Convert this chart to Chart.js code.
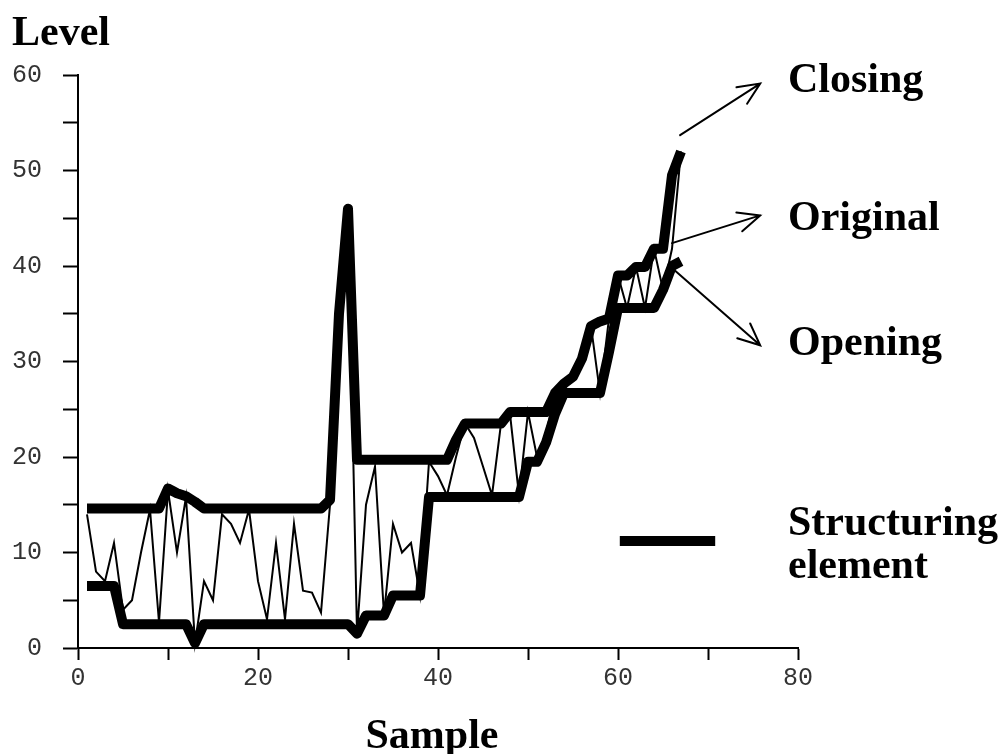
<!DOCTYPE html>
<html>
<head>
<meta charset="utf-8">
<script src="https://cdn.jsdelivr.net/npm/chart.js@4.4.0/dist/chart.umd.min.js"></script>
<style>
    body { margin: 0; background: #fff; }
    #caixa { position: relative; width: 1006px; height: 754px; }
    .rotulo {
        position: absolute;
        font-family: "Liberation Serif", "Times New Roman", serif;
        font-weight: bold;
        font-size: 42px;
        line-height: 42px;
        color: #000;
        white-space: nowrap;
    }
</style>
</head>
<body>
<div id="caixa">
    <canvas id="GraficoMorfologia" width="1006" height="754"></canvas>
    <div class="rotulo" style="left:12px;top:10px;">Level</div>
    <div class="rotulo" style="left:788px;top:57px;">Closing</div>
    <div class="rotulo" style="left:788px;top:195px;">Original</div>
    <div class="rotulo" style="left:788px;top:320px;">Opening</div>
    <div class="rotulo" style="left:788px;top:500px;">Structuring</div>
    <div class="rotulo" style="left:788px;top:543px;">element</div>
    <div class="rotulo" style="left:332px;top:713px;width:200px;text-align:center;">Sample</div>
</div>
<script>
// valores (amostra 1..67)
var amostras = [];
for (var i = 1; i <= 67; i++) amostras.push(i);

var original = [14, 8, 7, 11, 4, 5, 10, 14.5, 2.7, 16.5,
    10, 15.8, 0.5, 7, 5, 14, 13, 11, 14.5, 7,
    3, 11, 3, 13, 6, 5.8, 3.7, 15, 35, 46,
    1.5, 15, 19, 3.5, 13, 10, 11, 5.5, 19.5, 18,
    16, 20, 23.5, 22, 19, 16, 23.5, 24.5, 16, 24.7,
    20, 22.5, 26.5, 27.5, 28.4, 30.3, 33.7, 26.7, 34.5, 39,
    35.6, 39.9, 35.6, 41.8, 37.5, 41.8, 52];

var abertura = [6.5, 6.5, 6.5, 6.5, 2.5, 2.5, 2.5, 2.5, 2.5, 2.5,
    2.5, 2.5, 0.5, 2.5, 2.5, 2.5, 2.5, 2.5, 2.5, 2.5,
    2.5, 2.5, 2.5, 2.5, 2.5, 2.5, 2.5, 2.5, 2.5, 2.5,
    1.5, 3.4, 3.4, 3.4, 5.5, 5.5, 5.5, 5.5, 15.8, 15.8,
    15.8, 15.8, 15.8, 15.8, 15.8, 15.8, 15.8, 15.8, 15.8, 19.5,
    19.5, 21.5, 24.5, 26.7, 26.7, 26.7, 26.7, 26.7, 31, 35.6,
    35.6, 35.6, 35.6, 35.6, 37.5, 40, 40.5];

var fechamento = [14.6, 14.6, 14.6, 14.6, 14.6, 14.6, 14.6, 14.6, 14.6, 16.7,
    16.2, 15.9, 15.3, 14.6, 14.6, 14.6, 14.6, 14.6, 14.6, 14.6,
    14.6, 14.6, 14.6, 14.6, 14.6, 14.6, 14.6, 15.5, 35, 46,
    19.7, 19.7, 19.7, 19.7, 19.7, 19.7, 19.7, 19.7, 19.7, 19.7,
    19.7, 21.8, 23.5, 23.5, 23.5, 23.5, 23.5, 24.7, 24.7, 24.7,
    24.7, 24.7, 26.7, 27.7, 28.4, 30.3, 33.7, 34.2, 34.5, 39,
    39, 39.9, 39.9, 41.8, 41.8, 49.5, 52];

var rotulosX = [0, 20, 40, 60, 80];
var rotulosY = [0, 10, 20, 30, 40, 50, 60];

// setas das legendas, em coordenadas do grafico [x1, y1, x2, y2]
var setas = [
    [66.9, 53.7, 75.8, 59.1],
    [66.0, 42.4, 75.8, 45.3],
    [66.0, 39.8, 75.8, 31.7]
];
var elementoEstruturante = [60.2, 70.8, 11.2];

function MontarPontos(valores) {
    var pontos = [];
    for (var i = 0; i < amostras.length; i++) {
        pontos.push({ x: amostras[i], y: valores[i] });
    }
    return pontos;
}

function DesenharSeta(ctx, x1, y1, x2, y2) {
    var ang = Math.atan2(y2 - y1, x2 - x1);
    var tam = 24, abre = 0.42;
    ctx.beginPath();
    ctx.moveTo(x1, y1);
    ctx.lineTo(x2, y2);
    ctx.moveTo(x2 - tam * Math.cos(ang - abre), y2 - tam * Math.sin(ang - abre));
    ctx.lineTo(x2, y2);
    ctx.lineTo(x2 - tam * Math.cos(ang + abre), y2 - tam * Math.sin(ang + abre));
    ctx.stroke();
}

var anotacoes = {
    id: 'anotacoes',
    afterDraw: function (chart) {
        var ctx = chart.ctx;
        var sx = chart.scales.x, sy = chart.scales.y;
        ctx.save();
        ctx.strokeStyle = '#000';
        ctx.lineWidth = 2;
        ctx.lineCap = 'round';
        setas.forEach(function (s) {
            DesenharSeta(ctx, sx.getPixelForValue(s[0]), sy.getPixelForValue(s[1]),
                sx.getPixelForValue(s[2]), sy.getPixelForValue(s[3]));
        });
        ctx.lineWidth = 10;
        ctx.lineCap = 'butt';
        ctx.beginPath();
        ctx.moveTo(sx.getPixelForValue(elementoEstruturante[0]), sy.getPixelForValue(elementoEstruturante[2]));
        ctx.lineTo(sx.getPixelForValue(elementoEstruturante[1]), sy.getPixelForValue(elementoEstruturante[2]));
        ctx.stroke();
        ctx.restore();
    }
};

var fonteTicks = { family: "'Liberation Mono', 'Courier New', monospace", size: 25 };

new Chart(document.getElementById('GraficoMorfologia'), {
    type: 'line',
    data: {
        datasets: [
            {
                label: 'Original',
                data: MontarPontos(original),
                borderColor: '#000',
                borderWidth: 2,
                pointRadius: 0,
                tension: 0,
                clip: false
            },
            {
                label: 'Opening',
                data: MontarPontos(abertura),
                borderColor: '#000',
                borderWidth: 10,
                borderJoinStyle: 'round',
                pointRadius: 0,
                tension: 0,
                clip: false
            },
            {
                label: 'Closing',
                data: MontarPontos(fechamento),
                borderColor: '#000',
                borderWidth: 10,
                borderJoinStyle: 'round',
                pointRadius: 0,
                tension: 0,
                clip: false
            }
        ]
    },
    options: {
        responsive: false,
        animation: false,
        layout: { padding: { top: 75, right: 208, bottom: 0, left: 0 } },
        plugins: {
            legend: { display: false },
            tooltip: { enabled: false },
            title: { display: false }
        },
        scales: {
            x: {
                type: 'linear',
                min: 0,
                max: 80,
                ticks: {
                    stepSize: 10,
                    autoSkip: false,
                    maxRotation: 0,
                    padding: 3,
                    color: '#333',
                    font: fonteTicks,
                    callback: function (v) { return rotulosX.indexOf(v) >= 0 ? v : ''; }
                },
                grid: { drawOnChartArea: false, tickLength: 12, tickColor: '#000', tickWidth: 2 },
                border: { display: true, color: '#000', width: 2 },
                afterFit: function (s) { s.height = 106; }
            },
            y: {
                min: 0,
                max: 60,
                ticks: {
                    stepSize: 5,
                    autoSkip: false,
                    padding: 21,
                    color: '#333',
                    font: fonteTicks,
                    callback: function (v) { return rotulosY.indexOf(v) >= 0 ? v : ''; }
                },
                grid: { drawOnChartArea: false, tickLength: 15, tickColor: '#000', tickWidth: 2 },
                border: { display: true, color: '#000', width: 2 },
                afterFit: function (s) { s.width = 78; }
            }
        }
    },
    plugins: [anotacoes]
});
</script>
</body>
</html>
